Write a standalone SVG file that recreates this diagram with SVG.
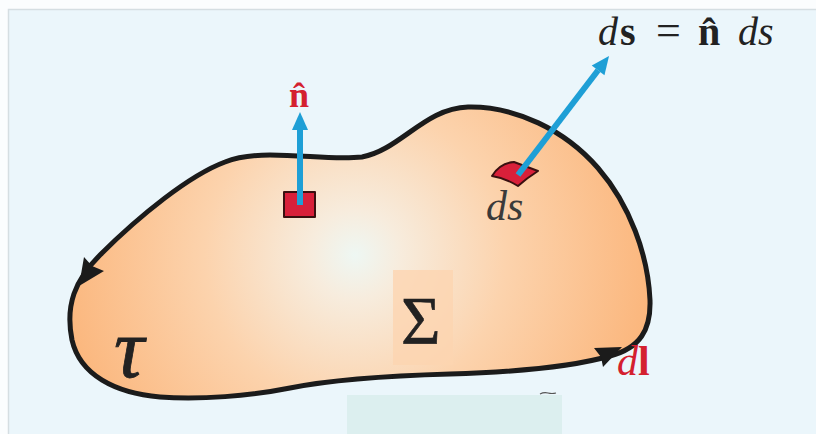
<svg xmlns="http://www.w3.org/2000/svg" width="816" height="434" viewBox="0 0 816 434">
<defs>
<radialGradient id="blobGrad" gradientUnits="userSpaceOnUse" cx="355" cy="255" r="300">
<stop offset="0" stop-color="#eef7f3"/>
<stop offset="0.15" stop-color="#f7ecdd"/>
<stop offset="0.5" stop-color="#fcd3ad"/>
<stop offset="1" stop-color="#fbb67c"/>
</radialGradient>
<marker id="blueHead" markerUnits="userSpaceOnUse" markerWidth="18" markerHeight="16" refX="0" refY="8" orient="auto" overflow="visible">
<path d="M0,0 L18,8 L0,16 Z" fill="#1e9fd6"/>
</marker>
<style>
.serif{font-family:"Liberation Serif","DejaVu Serif",serif;}
.it{font-style:italic;}
.bd{font-weight:bold;}
.red{fill:#d4202f;}
.dark{fill:#222;}
.vec{stroke:#1e9fd6;stroke-width:6;fill:none;marker-end:url(#blueHead);}
.patch{fill:#d8203a;stroke:#3a1010;stroke-width:2;stroke-linejoin:round;}
.outline{fill:url(#blobGrad);stroke:#1b1b1b;stroke-width:5;stroke-linejoin:round;}
.head{fill:#1b1b1b;}
</style>
</defs>
<rect x="0" y="0" width="816" height="434" fill="#fbfdfe"/>
<rect x="8.5" y="9.5" width="820" height="430" fill="#ebf6fb" stroke="#d5dee2" stroke-width="1.5"/>
<rect x="347" y="395" width="215" height="39" fill="#dcefef"/>
<path d="M540,394 q4,-2 8,-1 t8,0" fill="none" stroke="#555" stroke-width="1.2"/>

<g id="surface">
<path class="outline" d="M270,155 C305,155 335,160 362,157 C400,150 425,108 468,107 C515,106 565,130 598,168 C630,205 648,255 650,300 C651,330 640,348 610,356 C575,366 520,372 450,374 C380,376 330,380 290,388 C250,396 200,400 160,397 C115,393 80,375 72,340 C65,305 75,280 100,255 C140,215 190,175 225,162 C240,156 255,155 270,155 Z"/>
<path class="head" d="M79,286 L84,257 L92,266 L104,271 Z"/>
<path class="head" d="M622,347 L594,348 L601,357 L603,367 Z"/>
<rect x="393" y="270" width="60" height="95" fill="#fdd5b0" opacity="0.8"/>
<text class="serif dark" x="401" y="343" font-size="68" stroke="#222" stroke-width="0.6">Σ</text>
<text class="serif it dark" x="114" y="377" font-size="84" stroke="#222" stroke-width="0.8">τ</text>
</g>

<g id="patch-n">
<rect class="patch" x="284" y="192" width="31" height="25"/>
</g>

<g id="patch-ds">
<path class="patch" d="M492,176 Q500,163 514,162 L538,171 Q527,178 518,186 Q505,178 492,176 Z"/>
<text class="serif it" x="486" y="220" font-size="42" fill="#3a3a3a">ds</text>
</g>

<g id="connectors">
<line class="vec" x1="300" y1="205" x2="300" y2="130"/>
<line class="vec" x1="518" y1="175" x2="598.1" y2="70.3"/>
</g>

<g id="labels">
<text class="serif bd red" x="299" y="107" font-size="36" text-anchor="middle">n̂</text>
<text class="serif dark" y="45" font-size="40"><tspan class="it" x="598">d</tspan><tspan class="bd" x="620">s</tspan><tspan x="656" font-size="44">=</tspan><tspan class="bd" x="698">n̂</tspan><tspan class="it" x="738">ds</tspan></text>
<text class="serif red" y="375" font-size="42"><tspan class="it" x="617">d</tspan><tspan class="bd">l</tspan></text>
</g>
</svg>
